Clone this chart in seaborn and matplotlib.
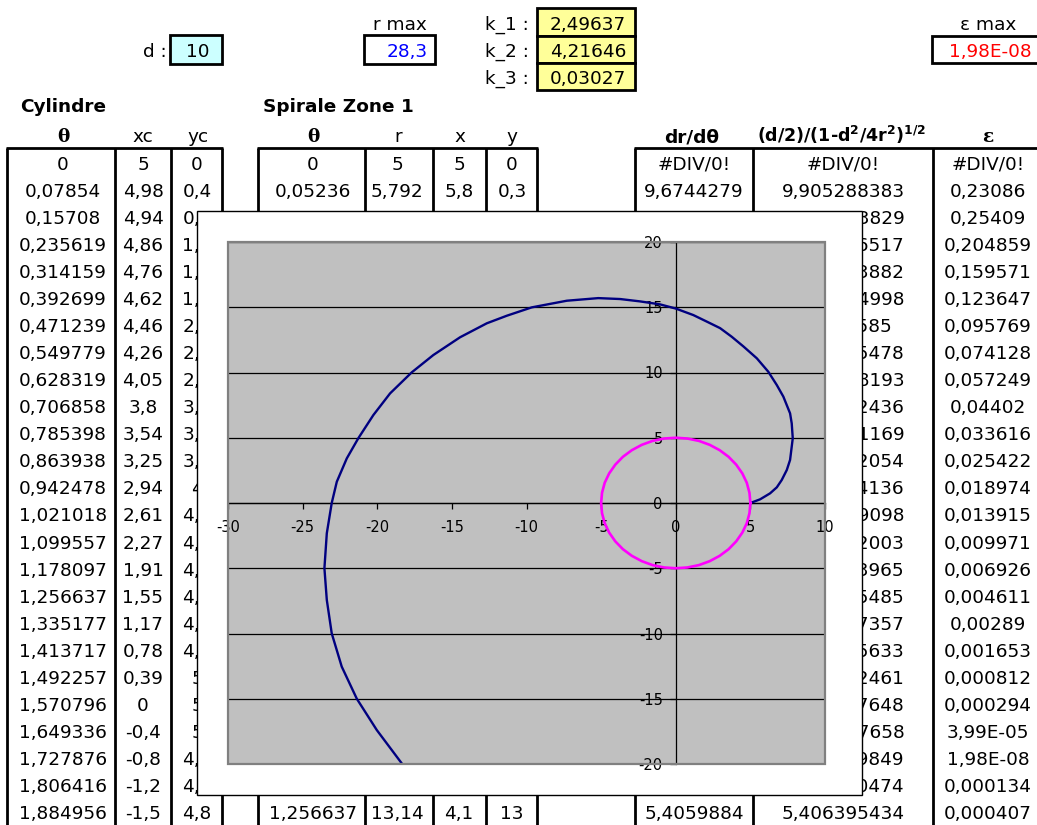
import matplotlib
matplotlib.use("Agg")
import matplotlib.pyplot as plt
import pandas as pd
import seaborn as sns
from matplotlib.patches import Rectangle
from matplotlib.transforms import Bbox

# ---------------- data ----------------
# Spiral (Zone 1) points
spiral_x = [5.0, 5.65, 6.32, 6.77, 7.10, 7.44, 7.66, 7.84, 7.77, 7.66, 7.21, 6.77, 6.2,
            5.43, 4.53, 3.75, 2.97, 2.08, 1.18, 0.0, -1.05, -2.4, -3.73, -5.19, -7.3,
            -9.65, -11.32, -12.66, -14.45, -16.24, -17.69, -19.14, -20.26, -21.27,
            -22.04, -22.71, -23.05, -23.38, -23.54, -23.38, -23.05, -22.38, -21.37,
            -20.03, -18.36]
spiral_y = [0.0, 0.28, 0.74, 1.2, 1.76, 2.53, 3.3, 4.96, 6.1, 6.87, 8.15, 9.04, 10.06,
            11.09, 12.0, 12.74, 13.4, 13.9, 14.4, 14.9, 15.22, 15.45, 15.63, 15.7, 15.5,
            14.99, 14.35, 13.77, 12.7, 11.34, 10.01, 8.4, 6.74, 4.96,
            3.42, 1.63, 0.0, -2.32, -5.0, -7.43, -9.99, -12.54, -15.0,
            -17.4, -19.95]

# Cylinder circle (values of the xc / yc columns)
circle_x = [5, 4.94, 4.76, 4.46, 4.05, 3.54, 2.94, 2.27, 1.55, 0.78, 0,
            -0.78, -1.55, -2.27, -2.94, -3.54, -4.05, -4.46, -4.76, -4.94, -5,
            -4.94, -4.76, -4.46, -4.05, -3.54, -2.94, -2.27, -1.55, -0.78, 0,
            0.78, 1.55, 2.27, 2.94, 3.54, 4.05, 4.46, 4.76, 4.94, 5]
circle_y = [0, 0.78, 1.55, 2.27, 2.94, 3.54, 4.05, 4.46, 4.76, 4.94, 5,
            4.94, 4.76, 4.46, 4.05, 3.54, 2.94, 2.27, 1.55, 0.78, 0,
            -0.78, -1.55, -2.27, -2.94, -3.54, -4.05, -4.46, -4.76, -4.94, -5,
            -4.94, -4.76, -4.46, -4.05, -3.54, -2.94, -2.27, -1.55, -0.78, 0]

x_ticks = [-30, -25, -20, -15, -10, -5, 0, 5, 10]
y_ticks = [-20, -15, -10, -5, 0, 5, 10, 15, 20]

# Spreadsheet cells
cyl_theta = ["0", "0,07854", "0,15708", "0,235619", "0,314159", "0,392699", "0,471239",
             "0,549779", "0,628319", "0,706858", "0,785398", "0,863938", "0,942478",
             "1,021018", "1,099557", "1,178097", "1,256637", "1,335177", "1,413717",
             "1,492257", "1,570796", "1,649336", "1,727876", "1,806416", "1,884956"]
cyl_xc = ["5", "4,98", "4,94", "4,86", "4,76", "4,62", "4,46", "4,26", "4,05", "3,8",
          "3,54", "3,25", "2,94", "2,61", "2,27", "1,91", "1,55", "1,17", "0,78", "0,39",
          "0", "-0,4", "-0,8", "-1,2", "-1,5"]
cyl_yc = ["0", "0,4", "0,8", "1,2", "1,5", "1,9", "2,3", "2,6", "2,9", "3,2", "3,5",
          "3,8", "4", "4,3", "4,5", "4,6", "4,8", "4,9", "4,9", "5", "5", "5", "4,9",
          "4,9", "4,8"]
spi_rows = {0: ["0", "5", "5", "0"],
            1: ["0,05236", "5,792", "5,8", "0,3"],
            2: ["0,10472", "6,35", "6,3", "0,7"],
            24: ["1,256637", "13,14", "4,1", "13"]}
drdt_rows = {0: "#DIV/0!", 1: "9,6744279", 2: "9,6788339", 24: "5,4059884"}
dcol = ["#DIV/0!", "9,905288383", "9,824013829", "9,613056517", "9,401523882",
        "9,196744998", "8,9861585", "8,782175478", "8,574318193", "8,366102436",
        "8,158841169", "7,951132054", "7,743994136", "7,536619098", "7,329082003",
        "7,121533965", "6,914075485", "6,706727357", "6,499435633", "6,292182461",
        "6,084977648", "5,877817658", "5,670689849", "5,463590474", "5,406395434"]
eps = ["#DIV/0!", "0,23086", "0,25409", "0,204859", "0,159571", "0,123647", "0,095769",
       "0,074128", "0,057249", "0,04402", "0,033616", "0,025422", "0,018974",
       "0,013915", "0,009971", "0,006926", "0,004611", "0,00289", "0,001653",
       "0,000812", "0,000294", "3,99E-05", "1,98E-08", "0,000134", "0,000407"]

# ---------------- style ----------------
sns.set_theme(style="white")
plt.rcParams['font.family'] = ['DejaVu Sans']
plt.rcParams.update({'axes.unicode_minus': False, 'mathtext.fontset': 'dejavusans',
                     'text.color': 'black', 'axes.labelcolor': 'black',
                     'xtick.color': 'black', 'ytick.color': 'black'})

W, H = 1037, 825
fig = plt.figure(figsize=(W / 100, H / 100), dpi=100)
fig.patch.set_facecolor('white')

# background "sheet" axes in pixel coordinates
bg = fig.add_axes([0, 0, 1, 1])
bg.set_xlim(0, W)
bg.set_ylim(H, 0)
bg.axis('off')

FS = 13.3
EM = FS * 100 / 72


def T(x, y, s, ha='center', **kw):
    kw.setdefault('fontsize', FS)
    kw.setdefault('color', 'black')
    return bg.text(x, y, s, ha=ha, va='baseline', **kw)


def box(x, y, w, h, fc):
    bg.add_patch(Rectangle((x, y), w, h, facecolor=fc, edgecolor='black', lw=2.0, zorder=2))


box(170, 35, 52, 29, '#CCFFFF')
box(364, 35, 71, 29, 'white')
box(537, 8, 98, 28, '#FFFF99')
box(537, 36, 98, 27, '#FFFF99')
box(537, 63, 98, 27, '#FFFF99')
box(932, 36, 112, 27, 'white')

T(167, 57, "d :", ha='right')
T(210, 57, "10", ha='right')
T(400, 30, "r max")
T(428, 57, "28,3", ha='right', color='#0000FF')
for i, (lab, val) in enumerate([("k_1 :", "2,49637"), ("k_2 :", "4,21646"), ("k_3 :", "0,03027")]):
    T(485, 30 + 27 * i, lab, ha='left')
    T(626, 30 + 27 * i, val, ha='right')
T(988, 30, "ε max")
T(1032, 57, "1,98E-08", ha='right', color='#FF0000')

T(20, 112, "Cylindre", ha='left', fontweight='bold')
T(263, 112, "Spirale Zone 1", ha='left', fontweight='bold')

HB = 142
T(63, HB, "θ", fontweight='bold', family='DejaVu Serif')
T(143, HB, "xc")
T(198, HB, "yc")
T(313, HB, "θ", fontweight='bold', family='DejaVu Serif')
T(398, HB, "r")
T(460, HB, "x")
T(512, HB, "y")
T(692, HB, "dr/dθ", fontweight='bold')
T(841, HB, r"(d/2)/(1-d$^\mathbf{2}$/4r$^\mathbf{2}$)$^\mathbf{1/2}$", fontweight='bold',
  fontsize=12.6)
T(988, HB, "ε", fontweight='bold', family='DejaVu Serif')

# table borders
for xv in [7, 115, 171, 222, 258, 365, 433, 486, 537, 635, 753, 933]:
    bg.plot([xv, xv], [148, H], color='black', lw=2.0, zorder=2, solid_capstyle='butt')
for x0, x1 in [(6, 223), (257, 538), (634, W)]:
    bg.plot([x0, x1], [148, 148], color='black', lw=2.0, zorder=2, solid_capstyle='butt')


def row_base(k):
    return 169.7 + k * 27.06


CHART_L, CHART_T, CHART_R, CHART_B = 197, 211, 862, 795
clip_right = Bbox.from_extents(CHART_R + 0.5, 0, W, H)   # display pixels

for k in range(25):
    yb = row_base(k)
    T(63, yb, cyl_theta[k])
    T(143, yb, cyl_xc[k])
    T(197, yb, cyl_yc[k])
    T(988, yb, eps[k])
    s = dcol[k]
    if 2 <= k <= 23:
        # only the right-hand end of these cells shows beside the chart
        n_dig = sum(ch.isdigit() for ch in s)
        width = (n_dig * 0.636 + 0.318) * EM
        t = T(843 + width / 2, yb, s[-5:], ha='right')
        t.set_clip_box(clip_right)
        t.set_clip_on(True)
    else:
        T(843, yb, s)
for k, vals in spi_rows.items():
    yb = row_base(k)
    for xc_, v in zip([313, 397, 459, 512], vals):
        T(xc_, yb, v)
for k, v in drdt_rows.items():
    T(694, row_base(k), v)

# chart area (white) above the sheet
bg.add_patch(Rectangle((CHART_L, CHART_T), CHART_R - CHART_L, CHART_B - CHART_T,
                       facecolor='white', edgecolor='black', lw=1.0, zorder=10))

# ---------------- chart ----------------
ax = fig.add_axes([228 / W, 1 - 764 / H, (825 - 228) / W, (764 - 242) / H])
ax.set_zorder(5)
ax.set_facecolor('#C0C0C0')
ax.set_xlim(-30, 10)
ax.set_ylim(-20, 20)

spiral_df = pd.DataFrame({'x': spiral_x, 'y': spiral_y})
circle_df = pd.DataFrame({'x': circle_x, 'y': circle_y})
sns.lineplot(data=spiral_df, x='x', y='y', sort=False, estimator=None,
             color='#000080', lw=1.7, ax=ax, zorder=4)
sns.lineplot(data=circle_df, x='x', y='y', sort=False, estimator=None,
             color='#FF00FF', lw=1.9, ax=ax, zorder=4)
ax.set_xlabel('')
ax.set_ylabel('')

ax.set_xticks(x_ticks)
ax.set_yticks(y_ticks)
ax.set_xticklabels([str(v) for v in x_ticks])
ax.set_yticklabels([str(v) for v in y_ticks])
ax.grid(axis='y', color='black', lw=0.9)
ax.grid(axis='x', visible=False)
ax.set_axisbelow(True)

for s in ['top', 'right']:
    ax.spines[s].set_visible(False)
ax.spines['left'].set_position(('data', 0))
ax.spines['bottom'].set_position(('data', 0))
for s in ['left', 'bottom']:
    ax.spines[s].set_color('black')
    ax.spines[s].set_linewidth(0.9)
    ax.spines[s].set_zorder(2)

ax.tick_params(axis='x', direction='out', length=4, width=0.9, color='black',
               pad=8.5, labelsize=10.5, labelcolor='black', bottom=True)
ax.tick_params(axis='y', direction='out', length=4.3, width=0.9, color='black',
               pad=5, labelsize=10.5, labelcolor='black', left=True)

ax.add_patch(Rectangle((0, 0), 1, 1, transform=ax.transAxes, fill=False,
                       edgecolor='#808080', lw=1.6, clip_on=False, zorder=6))

fig.savefig('out.png', dpi=100, facecolor='white')
